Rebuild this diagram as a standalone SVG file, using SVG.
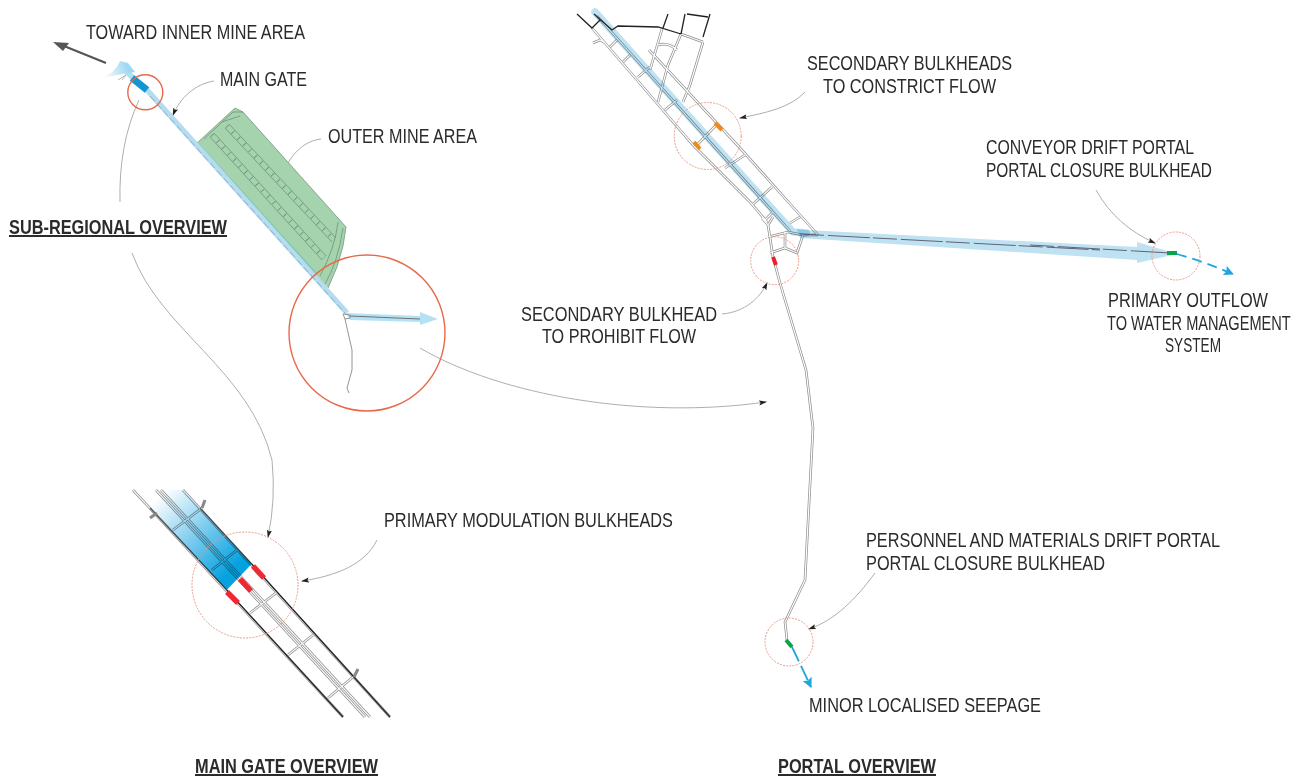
<svg xmlns="http://www.w3.org/2000/svg" xmlns:xlink="http://www.w3.org/1999/xlink" width="1302" height="778" viewBox="0 0 1302 778">
<style>
text{font-family:"Liberation Sans",Arial,sans-serif;font-size:20px;fill:#2b2b2b}
.h{font-weight:bold;text-decoration:underline}
.lead{fill:none;stroke:#999;stroke-width:.8}
.rc{fill:none;stroke:#e8694a;stroke-width:1.4}
.dc{fill:none;stroke:#e89a84;stroke-width:1;stroke-dasharray:2 1.2}
.g1{fill:none;stroke:#8c8c8c;stroke-width:2.6}
.g2{fill:none;stroke:#fff;stroke-width:1.2}
.gt1{fill:none;stroke:#8c8c8c;stroke-width:2.6}
.gt2{fill:none;stroke:#f7f7f7;stroke-width:1.2}
.dk{fill:none;stroke:#222;stroke-width:1.3}
.flow{fill:none;stroke:#1da6dc;stroke-width:1.8}
.gm{fill:none;stroke:#688a72;stroke-width:.7}
.mul{mix-blend-mode:multiply}
</style>
<defs>
<linearGradient id="gb" gradientUnits="userSpaceOnUse" x1="160" y1="495" x2="232" y2="570"><stop offset="0" stop-color="#fff"/><stop offset=".45" stop-color="#8ed2f0"/><stop offset="1" stop-color="#05a2e0"/></linearGradient>
<linearGradient id="gf" gradientUnits="userSpaceOnUse" x1="102" y1="76" x2="128" y2="68"><stop offset="0" stop-color="#fff"/><stop offset="1" stop-color="#9fd8f3"/></linearGradient>
<marker id="a" markerWidth="8" markerHeight="6" refX="7" refY="2.5" orient="auto" markerUnits="userSpaceOnUse"><path d="M0 0L8 2.500L0 5L1.500 2.500Z" fill="#222"/></marker>
<marker id="b" markerWidth="12" markerHeight="12" refX="9" refY="5" orient="auto" markerUnits="userSpaceOnUse"><path d="M0 0L10 5L0 10L2 5Z" fill="#1da6dc"/></marker>
<path id="gt" d="M133 490L343 717M183 490L390 717M156 490L365 717M161 490L370 717M173 530L202 508M212 570L237 550M250 613L276 593M288 655L313 635M328 698L353 677"/>
<path id="pt" d="M592 28L637 80L693 145L750 202L767 222M649 50L740 148L800 215L818 235M610 47L617 40M623 62L630 55M638 77L650 67M665 110L677 100M697 145L718 123M725 168L745 155M752 205L772 187M765 220L773 212M790 223L800 217M662 29L650 70M681 34L668 65L658 102M703 42L690 85L683 102M681 34L703 42M658 45Q668 42 677 50M593 43L600 40L605 43M762 218L768 225L773 257L780 283L806 370L813 428L805 580L785 622L787 640M768 225L773 217M768 237L788 232L803 235L797 253L785 248L770 253M785 232V248M803 235L818 235M597 16L790 231"/>
</defs>
<g id="connectors">
<path class="lead" d="M214 81C195 84 180 98 173 115" marker-end="url(#a)"/>
<path class="lead" d="M321 139C305 141 292 152 283 173" marker-end="url(#a)"/>
<path class="lead" d="M139 100C125 130 119 165 120 202"/>
<path class="lead" d="M132 253C160 330 250 370 272 460Q276 500 268 537" marker-end="url(#a)"/>
<path class="lead" d="M420 348C500 395 640 420 766 402" marker-end="url(#a)"/>
<path class="lead" d="M377 540C365 565 335 576 302 581" marker-end="url(#a)"/>
<path class="lead" d="M805 92C790 108 765 113 740 118" marker-end="url(#a)"/>
<path class="lead" d="M1096 190C1110 215 1130 232 1155 243" marker-end="url(#a)"/>
<path class="lead" d="M722 314C745 312 760 298 767 283" marker-end="url(#a)"/>
<path class="lead" d="M875 573C855 600 835 620 809 629" marker-end="url(#a)"/>
</g>
<g id="sub-regional">
<path d="M196 144L235 108L243 112L346 227L343 246L337 267L328 288L315 275Z" fill="#a5d3ae"/>
<path d="M196 144L315 275" stroke="#7cc7b0" stroke-width="2.500" fill="none" transform="translate(1 -1)"/>
<path class="gm" d="M196 144L235 108L243 112L346 227L343 246L337 267L328 288M225 128L332 242M229 124L336 238M210 137L322 260M214 133L326 256M204 139L233 112L243 112M222 122L240 116M338 222Q335 248 320 276M343 228Q338 262 325 284"/>
<path d="M227 126L334 240M212 135L324 258" fill="none" stroke="#688a72" stroke-width="4.500" stroke-dasharray=".8 7.500"/>
<path d="M125 70L133 78L147 90L347 313" fill="none" stroke="#b5dcef" stroke-width="5.500"/>
<path d="M150 96L345 313" fill="none" stroke="#7a9fb1" stroke-width=".7" stroke-dasharray="7 3"/>
<path d="M102 78Q116 72 120 61L128 63L135 72L122 74Z" fill="url(#gf)"/>
<path d="M118 80L126 75L122 80" fill="none" stroke="#999" stroke-width=".7"/>
<path d="M132 78L147 90" stroke="#1296d1" stroke-width="7" fill="none"/>
<path d="M106 63L64 46" stroke="#555" stroke-width="2.200" fill="none"/>
<path d="M53 42L69 43L63 51Z" fill="#555"/>
<path d="M346 313L420 316L420 312L438 319L420 325L420 322L350 320Z" fill="#b5e1f4"/>
<path d="M350 316L420 319" stroke="#666" stroke-width=".9" fill="none"/>
<path d="M343 314L350 315L350 318L345 319ZM345 319L352 350L352 370L347 388L349 393" fill="none" stroke="#888" stroke-width=".9"/>
<circle class="rc" cx="145.300" cy="92.300" r="17.500"/>
<circle class="rc" cx="367" cy="333" r="78"/>
</g>
<g id="main-gate">
<use xlink:href="#gt" class="gt1"/>
<use xlink:href="#gt" class="gt2"/>
<path class="mul" d="M158 490L183 490L251.700 564L226.700 590L133 490Z" fill="url(#gb)"/>
<path d="M150 508L226.700 590M200 508L251.700 564" class="dk" stroke-opacity=".7"/>
<path d="M226.700 590L343 717M251.700 564L390 717" class="dk"/>
<path d="M202 508L205 500M150 518L157 513M354 677L358 669" stroke="#888" stroke-width="3" fill="none"/>
<path d="M227 592L238 603M240 579L251 591M253 566L264 578" stroke="#ef2833" stroke-width="5.500" fill="none"/>
<circle class="dc" cx="245" cy="585" r="53"/>
</g>
<g id="portal">
<use xlink:href="#pt" class="g1"/>
<use xlink:href="#pt" class="g2"/>
<path class="mul" d="M595 12L793 232L806 233" fill="none" stroke="#bfe2f3" stroke-width="7.500" stroke-linecap="round"/>
<path class="mul" d="M797 229L806 230L1137 247L1137 242L1177 254L1137 263L1137 260L800 238Z" fill="#bfe2f3"/>
<path d="M577 14L592 28L600 20M594 14L612 30L618 26L658 27L681 34M668 14L663 28M685 14L681 34M687 14L708 17M710 14L703 37" class="dk"/>
<path d="M800 234L1100 250M1030 245L1170 253" stroke="#556" stroke-width=".9" stroke-dasharray="24 4 42 3" fill="none"/>
<path d="M715 123L722 130M694 142L700 149" stroke="#ef8a1d" stroke-width="4" fill="none"/>
<path d="M773 257L776 265" stroke="#e8212d" stroke-width="4" fill="none"/>
<path d="M1167 253L1177 253" stroke="#0aa34c" stroke-width="4" fill="none"/>
<path d="M786 640L792 647" stroke="#0aa34c" stroke-width="4" fill="none"/>
<path class="flow" d="M1177 254Q1205 262 1233 274" stroke-dasharray="10 6" marker-end="url(#b)"/>
<path class="flow" d="M792 647L811 687" stroke-dasharray="16 5" marker-end="url(#b)"/>
<circle class="dc" cx="707.700" cy="136" r="33.500"/>
<circle class="dc" cx="774.700" cy="260.700" r="24"/>
<circle class="dc" cx="1176" cy="256" r="24"/>
<circle class="dc" cx="789" cy="642" r="24"/>
</g>
<g id="labels">
<text x="86" y="39" textLength="219" lengthAdjust="spacingAndGlyphs">TOWARD INNER MINE AREA</text>
<text x="220" y="86" textLength="87" lengthAdjust="spacingAndGlyphs">MAIN GATE</text>
<text x="328" y="143" textLength="149" lengthAdjust="spacingAndGlyphs">OUTER MINE AREA</text>
<text class="h" x="9" y="234" textLength="218" lengthAdjust="spacingAndGlyphs">SUB-REGIONAL OVERVIEW</text>
<text x="384" y="527" textLength="289" lengthAdjust="spacingAndGlyphs">PRIMARY MODULATION BULKHEADS</text>
<text class="h" x="195" y="773" textLength="183" lengthAdjust="spacingAndGlyphs">MAIN GATE OVERVIEW</text>
<text class="h" x="778" y="773" textLength="158" lengthAdjust="spacingAndGlyphs">PORTAL OVERVIEW</text>
<text x="807" y="70" textLength="205" lengthAdjust="spacingAndGlyphs">SECONDARY BULKHEADS</text>
<text x="823" y="93" textLength="173" lengthAdjust="spacingAndGlyphs">TO CONSTRICT FLOW</text>
<text x="986" y="154" textLength="208" lengthAdjust="spacingAndGlyphs">CONVEYOR DRIFT PORTAL</text>
<text x="986" y="177" textLength="226" lengthAdjust="spacingAndGlyphs">PORTAL CLOSURE BULKHEAD</text>
<text x="1108" y="307" textLength="160" lengthAdjust="spacingAndGlyphs">PRIMARY OUTFLOW</text>
<text transform="translate(1107 330) scale(.73 1)">TO WATER MANAGEMENT</text>
<text x="1165" y="352" textLength="56" lengthAdjust="spacingAndGlyphs">SYSTEM</text>
<text x="521" y="321" textLength="196" lengthAdjust="spacingAndGlyphs">SECONDARY BULKHEAD</text>
<text x="542" y="343" textLength="154" lengthAdjust="spacingAndGlyphs">TO PROHIBIT FLOW</text>
<text x="866" y="547" textLength="354" lengthAdjust="spacingAndGlyphs">PERSONNEL AND MATERIALS DRIFT PORTAL</text>
<text x="866" y="570" textLength="239" lengthAdjust="spacingAndGlyphs">PORTAL CLOSURE BULKHEAD</text>
<text x="809" y="712" textLength="232" lengthAdjust="spacingAndGlyphs">MINOR LOCALISED SEEPAGE</text>
</g>
</svg>
